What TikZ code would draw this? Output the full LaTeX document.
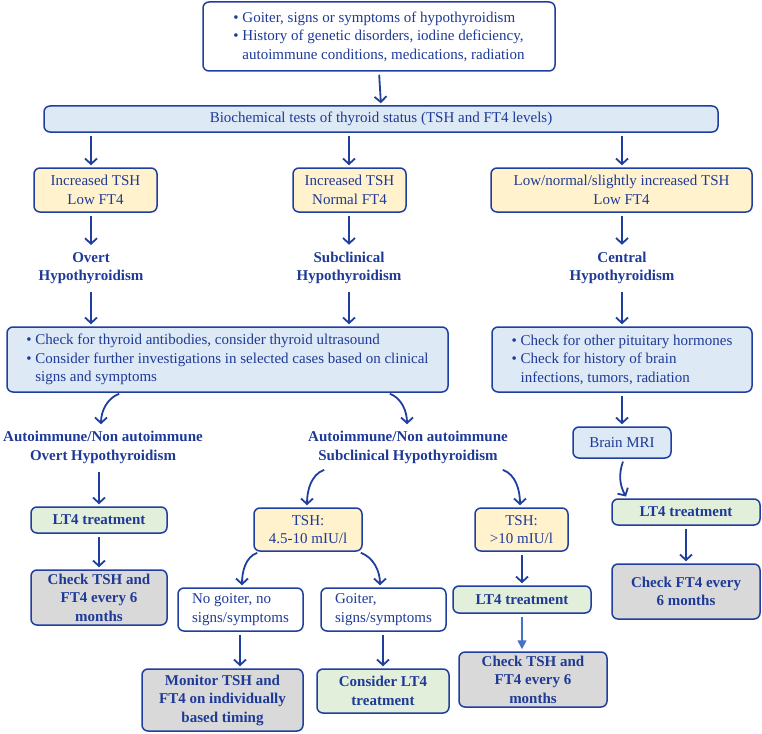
\documentclass[tikz,border=0pt]{standalone}
\usepackage{fontspec}
\setmainfont{Liberation Serif}
\usetikzlibrary{arrows.meta}
\definecolor{txt}{RGB}{30,58,150}
\definecolor{bdr}{RGB}{30,62,160}
\definecolor{lblue}{RGB}{222,233,246}
\definecolor{lyel}{RGB}{255,242,204}
\definecolor{lgrn}{RGB}{226,239,218}
\definecolor{lgry}{RGB}{217,217,217}
\definecolor{arrlite}{RGB}{68,114,196}
\begin{document}
\begin{tikzpicture}[x=1pt,y=-1pt,
  every node/.style={font=\fontsize{15}{18.5}\selectfont, text=txt},
  box/.style={draw=bdr, line width=1.5pt, rounded corners=6pt, inner sep=2pt, align=center},
  sz/.style 2 args={minimum width=#1, minimum height=#2},
  bbox/.style={box, font=\fontsize{15}{18.5}\selectfont\bfseries},
  lbl/.style={font=\fontsize{15}{18.5}\selectfont\bfseries, align=center, inner sep=5pt},
  arr/.style={draw=bdr, line width=1.8pt, -{Straight Barb[length=5.5pt,width=12pt]}, shorten <=3pt, shorten >=2pt},
  arrl/.style={draw=arrlite, line width=1.6pt, -{Triangle[length=9pt,width=9pt]}, shorten <=3pt, shorten >=2pt}]
\useasboundingbox (0,0) rectangle (762,733);

% columns
\coordinate (xA) at (91,0);
\coordinate (xB) at (349,0);
\coordinate (xC) at (622,0);
\coordinate (xL) at (99,0);
\coordinate (c1) at (122,0);
\coordinate (c2) at (101,0);
\coordinate (c3) at (387,0);
\coordinate (c4) at (407,0);
\coordinate (c5) at (327,0);
\coordinate (c6) at (307,0);
\coordinate (c7) at (500,0);
\coordinate (c8) at (520,0);
\coordinate (c9) at (260,0);
\coordinate (c10) at (242,0);
\coordinate (c11) at (358,0);
\coordinate (c12) at (380,0);
\coordinate (xN) at (240,0);
\coordinate (xG) at (383,0);
\coordinate (xM) at (522,0);
\coordinate (xR) at (686,0);
\coordinate (b1) at (624,0);
\coordinate (b2) at (627,0);

% nodes
\node[box, fill=white, sz={352}{69}, align=left] (top) at (379,36.5)
  {\textbullet\ Goiter, signs or symptoms of hypothyroidism\\
   \textbullet\ History of genetic disorders, iodine deficiency,\\
   \phantom{\textbullet\ }autoimmune conditions, medications, radiation};
\node[box, fill=lblue, sz={674}{26}] (bio) at (381,119)
  {Biochemical tests of thyroid status (TSH and FT4 levels)};

\node[box, fill=lyel, sz={123}{44}] (A) at (95.5,190) {Increased TSH\\Low FT4};
\node[box, fill=lyel, sz={113}{44}] (B) at (349.5,190) {Increased TSH\\Normal FT4};
\node[box, fill=lyel, sz={261}{44}] (C) at (621.5,190) {Low/normal/slightly increased TSH\\Low FT4};

\node[lbl] (ov) at (91,268) {Overt\\Hypothyroidism};
\node[lbl] (sub) at (349,268) {Subclinical\\Hypothyroidism};
\node[lbl] (cen) at (622,268) {Central\\Hypothyroidism};

\node[box, fill=lblue, sz={441}{65}, align=left] (L) at (227.5,359.5)
  {\textbullet\ Check for thyroid antibodies, consider thyroid ultrasound\\
   \textbullet\ Consider further investigations in selected cases based on clinical\\
   \phantom{\textbullet\ }signs and symptoms};
\node[box, fill=lblue, sz={260}{65}, align=left] (R) at (622,359.5)
  {\textbullet\ Check for other pituitary hormones\\
   \textbullet\ Check for history of brain\\
   \phantom{\textbullet\ }infections, tumors, radiation};

\node[lbl] (ao) at (103,447.5) {Autoimmune/Non autoimmune\\Overt Hypothyroidism};
\node[lbl] (as) at (408,447.5) {Autoimmune/Non autoimmune\\Subclinical Hypothyroidism};
\node[box, fill=lblue, sz={98}{31}] (mri) at (622,442.5) {Brain MRI};

\node[bbox, fill=lgrn, sz={136}{26}] (lt1) at (99,520) {LT4 treatment};
\node[bbox, fill=lgry, sz={136}{55}] (g1) at (99,597.5) {Check TSH and\\FT4 every 6\\months};

\node[box, fill=lyel, sz={108}{43}] (t1) at (308,529.5) {TSH:\\4.5-10 mIU/l};
\node[box, fill=lyel, sz={93}{43}] (t2) at (521.5,529.5) {TSH:\\>10 mIU/l};

\node[box, fill=white, sz={125}{43}, align=left] (ng) at (240.5,609.5) {No goiter, no\\signs/symptoms};
\node[box, fill=white, sz={125}{43}, align=left] (gs) at (383.5,609.5) {Goiter,\\signs/symptoms};
\node[bbox, fill=lgry, sz={161}{62}] (mon) at (222.5,700) {Monitor TSH and\\FT4 on individually\\based timing};
\node[bbox, fill=lgrn, sz={132}{44}] (con) at (383,691) {Consider LT4\\treatment};

\node[bbox, fill=lgrn, sz={138}{27}] (lt2) at (522,599.5) {LT4 treatment};
\node[bbox, fill=lgry, sz={148}{55}] (g2) at (533,679.5) {Check TSH and\\FT4 every 6\\months};

\node[bbox, fill=lgrn, sz={148}{26}] (lt3) at (686,512) {LT4 treatment};
\node[bbox, fill=lgry, sz={148}{55}] (g3) at (686,591.5) {Check FT4 every\\6 months};

% connectors
\draw[arr] (top.south) -- (bio.north);
\draw[arr] (bio.south -| xA) -- (A.north -| xA);
\draw[arr] (bio.south -| xB) -- (B.north -| xB);
\draw[arr] (bio.south -| xC) -- (C.north -| xC);
\draw[arr] (A.south -| xA) -- (ov.north -| xA);
\draw[arr] (B.south -| xB) -- (sub.north -| xB);
\draw[arr] (C.south -| xC) -- (cen.north -| xC);
\draw[arr] (ov.south -| xA) -- (L.north -| xA);
\draw[arr] (sub.south -| xB) -- (L.north -| xB);
\draw[arr] (cen.south -| xC) -- (R.north -| xC);
\draw[arr] (L.south -| c1) to[out=200,in=90] (ao.north -| c2);
\draw[arr] (L.south -| c3) to[out=-20,in=90] (as.north -| c4);
\draw[arr] (R.south -| xC) -- (mri.north -| xC);
\draw[arr] (mri.south -| b1) to[out=250,in=120] (lt3.north -| b2);
\draw[arr] (lt3.south) -- (g3.north);
\draw[arr] (ao.south -| xL) -- (lt1.north -| xL);
\draw[arr] (lt1.south -| xL) -- (g1.north -| xL);
\draw[arr] (as.south -| c5) to[out=200,in=90] (t1.north -| c6);
\draw[arr] (as.south -| c7) to[out=-20,in=90] (t2.north -| c8);
\draw[arr] (t1.south -| c9) to[out=200,in=90] (ng.north -| c10);
\draw[arr] (t1.south -| c11) to[out=-20,in=90] (gs.north -| c12);
\draw[arr] (ng.south -| xN) -- (mon.north -| xN);
\draw[arr] (gs.south -| xG) -- (con.north -| xG);
\draw[arr] (t2.south -| xM) -- (lt2.north -| xM);
\draw[arrl] (lt2.south -| xM) -- (g2.north -| xM);
\end{tikzpicture}
\end{document}
